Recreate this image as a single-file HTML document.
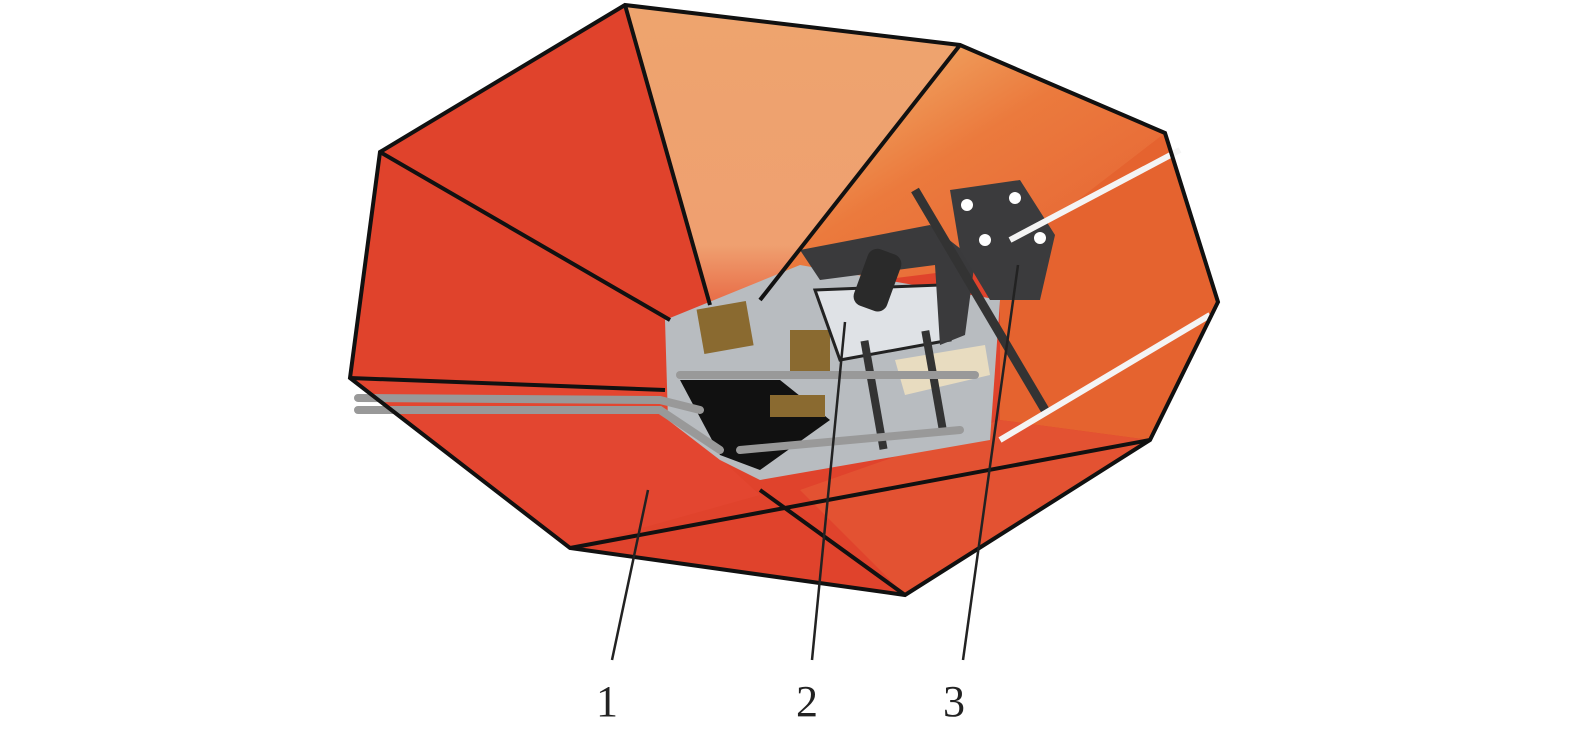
<!DOCTYPE html>
<html><head><meta charset="utf-8"><style>
html,body{margin:0;padding:0;background:#fff;width:1575px;height:737px;overflow:hidden}
svg{display:block}
text{font-family:"Liberation Serif",serif;font-size:44px;fill:#222}
</style></head><body>
<svg width="1575" height="737" viewBox="0 0 1575 737" xmlns="http://www.w3.org/2000/svg">
<defs>
<linearGradient id="gt" x1="0" y1="0" x2="0" y2="1"><stop offset="0" stop-color="#eea46e"/><stop offset="0.8" stop-color="#efa070"/><stop offset="1" stop-color="#e86a45"/></linearGradient>
<linearGradient id="gr" x1="0" y1="0" x2="1" y2="1"><stop offset="0" stop-color="#f3c07a"/><stop offset="0.45" stop-color="#eb7a3d"/><stop offset="1" stop-color="#e55e32"/></linearGradient>
</defs>
<!-- outer fabric -->
<polygon points="625,5 960,45 1165,133 1218,302 1150,440 905,595 570,548 350,378 380,152" fill="#e0432c"/>
<!-- top wedge -->
<polygon points="625,5 960,45 760,300 710,305" fill="url(#gt)"/>
<!-- upper right wedge -->
<polygon points="960,45 1165,133 1040,260 800,290 760,300" fill="url(#gr)"/>
<!-- right wedge -->
<polygon points="1165,133 1218,302 1150,440 1000,420 1000,260" fill="#e5632f"/>
<polygon points="1000,420 1150,440 905,595 800,490" fill="#e35232"/>
<!-- left wedges -->
<polygon points="380,152 625,5 710,305 670,320" fill="#e0432c"/>
<polygon points="350,378 380,152 670,320 665,390" fill="#e0432c"/>
<polygon points="350,378 665,390 700,440 760,495 570,548" fill="#e34630"/>
<!-- mechanism bay -->
<polygon points="665,320 800,265 1000,300 990,440 760,480 720,460 668,420" fill="#b8bcc0"/>
<polygon points="680,380 780,380 830,420 760,470 720,455" fill="#111"/>
<rect x="700" y="305" width="50" height="45" fill="#8a6a30" transform="rotate(-10 725 327)"/>
<rect x="790" y="330" width="40" height="45" fill="#8a6a30"/>
<rect x="770" y="395" width="55" height="22" fill="#8a6a30"/>
<polygon points="815,290 940,285 950,340 840,360" fill="#dfe2e6" stroke="#222" stroke-width="3"/>
<polygon points="800,250 930,225 975,260 965,335 940,345 935,265 820,280" fill="#3a3a3c"/>
<rect x="860" y="250" width="35" height="60" rx="10" fill="#2a2a2a" transform="rotate(20 877 280)"/>
<polygon points="950,190 1020,180 1055,235 1040,300 990,300 960,250" fill="#3b3b3d"/>
<circle cx="967" cy="205" r="6" fill="#fff"/><circle cx="1015" cy="198" r="6" fill="#fff"/><circle cx="985" cy="240" r="6" fill="#fff"/><circle cx="1040" cy="238" r="6" fill="#fff"/>
<polygon points="895,360 985,345 990,375 905,395" fill="#e8dcc0"/>
<rect x="870" y="340" width="8" height="110" fill="#333" transform="rotate(-10 874 395)"/>
<rect x="930" y="330" width="8" height="100" fill="#333" transform="rotate(-10 934 380)"/>
<line x1="915" y1="190" x2="1045" y2="410" stroke="#333" stroke-width="9"/>
<!-- tubes -->
<g stroke="#999" stroke-width="8" fill="none" stroke-linecap="round">
<polyline points="358,398 660,400 700,410"/><polyline points="358,410 660,410 720,450"/>
<line x1="680" y1="375" x2="975" y2="375"/>
<line x1="740" y1="450" x2="960" y2="430"/>
</g>
<g stroke="#f4f4f4" stroke-width="6">
<line x1="1010" y1="240" x2="1180" y2="150"/>
<line x1="1000" y1="440" x2="1210" y2="315"/>
</g>
<!-- rim edges -->
<g stroke="#111" stroke-width="4" fill="none">
<polygon points="625,5 960,45 1165,133 1218,302 1150,440 905,595 570,548 350,378 380,152"/>
<line x1="625" y1="5" x2="710" y2="305"/>
<line x1="960" y1="45" x2="760" y2="300"/>
<line x1="380" y1="152" x2="670" y2="320"/>
<line x1="350" y1="378" x2="665" y2="390"/>
<line x1="570" y1="548" x2="1150" y2="440"/>
<line x1="760" y1="490" x2="905" y2="595"/>
</g>
<!-- leaders -->
<g stroke="#222" stroke-width="2.5">
<line x1="648" y1="490" x2="612" y2="660"/>
<line x1="845" y1="322" x2="812" y2="660"/>
<line x1="1018" y1="265" x2="963" y2="660"/>
</g>
<text x="596" y="716">1</text>
<text x="796" y="716">2</text>
<text x="943" y="716">3</text>
</svg>
</body></html>
